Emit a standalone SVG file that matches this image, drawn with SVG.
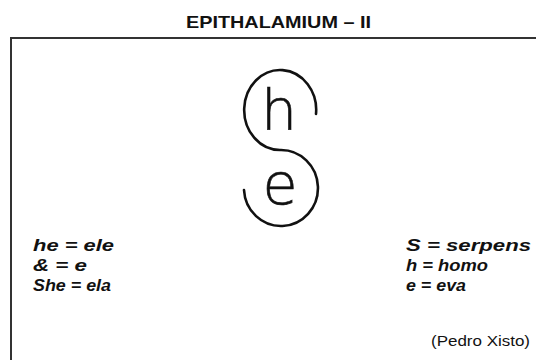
<svg xmlns="http://www.w3.org/2000/svg" width="536" height="360" viewBox="0 0 536 360">
<style>
.t{font-family:"Liberation Sans",Arial,sans-serif;fill:#111}
.title{font-size:17px;font-weight:bold}
.lg{font-size:17px;font-weight:bold;font-style:italic}
.cr{font-size:14px}
.gl{font-family:"DejaVu Sans",Inter,sans-serif;font-weight:200;font-size:57px;fill:#111;stroke:#111;stroke-width:0.6}
.frame{stroke:#333;stroke-width:2;fill:none}
.snake{stroke:#111;stroke-width:2.6;fill:none;stroke-linecap:round}
</style>
<rect width="536" height="360" fill="#fff"/>
<g id="title"><text class="t title" x="186" y="28" textLength="185" lengthAdjust="spacingAndGlyphs">EPITHALAMIUM – II</text></g>
<g id="frame"><path class="frame" d="M11,38 H536 M11,37 V360"/></g>
<g id="figure">
<path class="snake" d="M316,114 A36 40 0 1 0 280,150 A37 38 0 1 1 244,190"/>
<text class="gl" x="279" y="130" text-anchor="middle">h</text>
<text class="gl" x="280" y="204" text-anchor="middle">e</text>
</g>
<g id="legend-left">
<text class="t lg" x="33" y="251" textLength="81" lengthAdjust="spacingAndGlyphs">he = ele</text>
<text class="t lg" x="33" y="271" textLength="54" lengthAdjust="spacingAndGlyphs">&amp; = e</text>
<text class="t lg" x="33" y="291" textLength="78" lengthAdjust="spacingAndGlyphs">She = ela</text>
</g>
<g id="legend-right">
<text class="t lg" x="406" y="251" textLength="125" lengthAdjust="spacingAndGlyphs">S = serpens</text>
<text class="t lg" x="406" y="271" textLength="82" lengthAdjust="spacingAndGlyphs">h = homo</text>
<text class="t lg" x="406" y="291" textLength="60" lengthAdjust="spacingAndGlyphs">e = eva</text>
</g>
<g id="credit"><text class="t cr" x="431" y="346" textLength="99" lengthAdjust="spacingAndGlyphs">(Pedro Xisto)</text></g>
</svg>
